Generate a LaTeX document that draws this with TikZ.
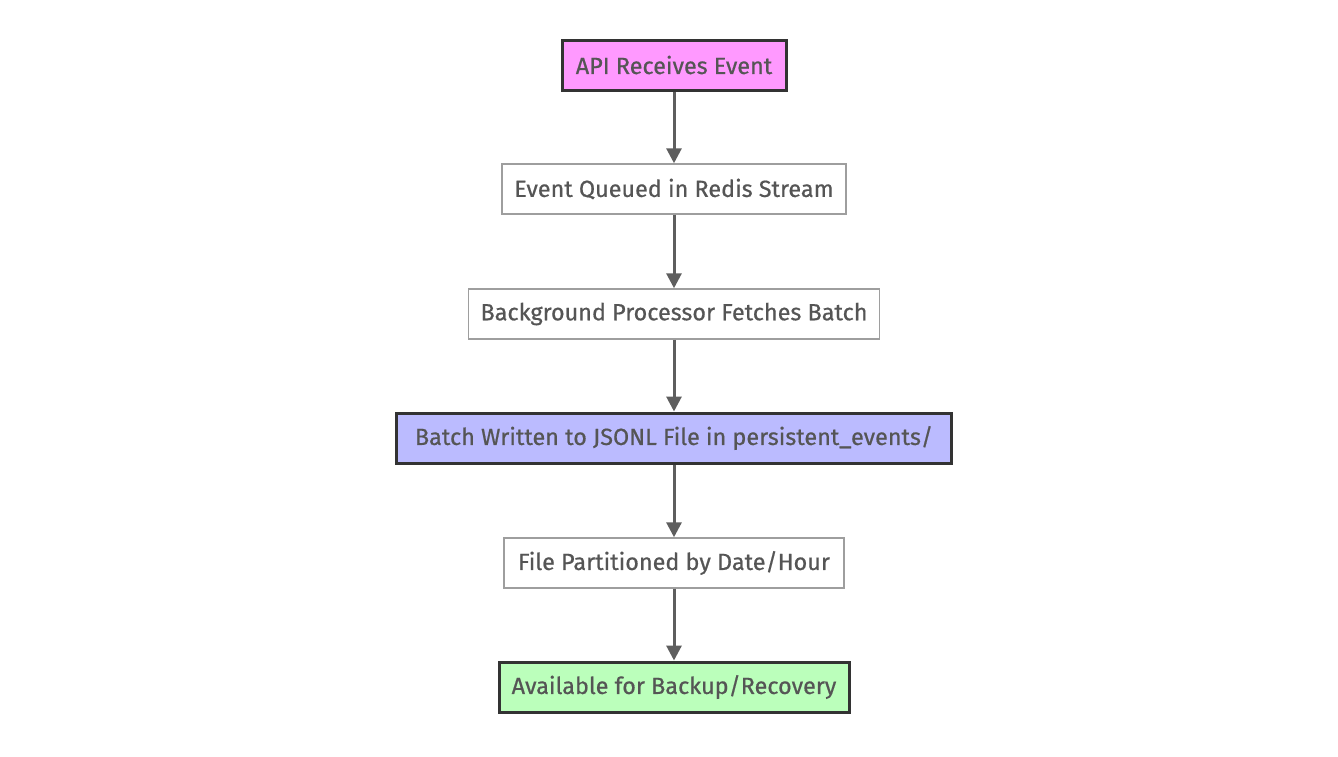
\documentclass[tikz,border=0pt]{standalone}
\usepackage{fontspec}
\setmainfont{Fira Sans}[FakeBold=0.6]
\usetikzlibrary{arrows.meta}
\definecolor{txt}{HTML}{555555}
\definecolor{edge}{HTML}{5E5E5E}
\definecolor{pinkfill}{HTML}{FF99FF}
\definecolor{bluefill}{HTML}{BBBBFF}
\definecolor{greenfill}{HTML}{BBFFBB}
\definecolor{plainborder}{HTML}{9E9E9E}
\definecolor{darkborder}{HTML}{333333}
\tikzset{
  box/.style={rectangle, minimum height=50pt, inner sep=0pt, text=txt,
    font=\fontsize{23.4}{28}\selectfont},
  plain/.style={box, draw=plainborder, fill=white, line width=1.5pt},
  strong/.style={box, draw=darkborder, line width=3pt},
  flow/.style={draw=edge, line width=3pt, -{Triangle[length=15pt,width=15pt]}}
}
\begin{document}
\begin{tikzpicture}[x=1pt,y=-1pt]
\useasboundingbox[fill=white] (0,0) rectangle (1338,756);
\node[strong, fill=pinkfill, minimum width=224pt] (a) at (674,65) {API Receives Event};
\node[plain, minimum width=344pt] (b) at (674,189) {Event Queued in Redis Stream};
\node[plain, minimum width=411pt] (c) at (674,314) {Background Processor Fetches Batch};
\node[strong, fill=bluefill, minimum width=555pt] (d) at (674,438) {Batch Written to JSONL File in persistent\_events/};
\node[plain, minimum width=340pt] (e) at (674,563) {File Partitioned by Date/Hour};
\node[strong, fill=greenfill, minimum width=350pt] (f) at (674,687) {Available for Backup/Recovery};
\draw[flow] (a) -- (b);
\draw[flow] (b) -- (c);
\draw[flow] (c) -- (d);
\draw[flow] (d) -- (e);
\draw[flow] (e) -- (f);
\end{tikzpicture}
\end{document}
